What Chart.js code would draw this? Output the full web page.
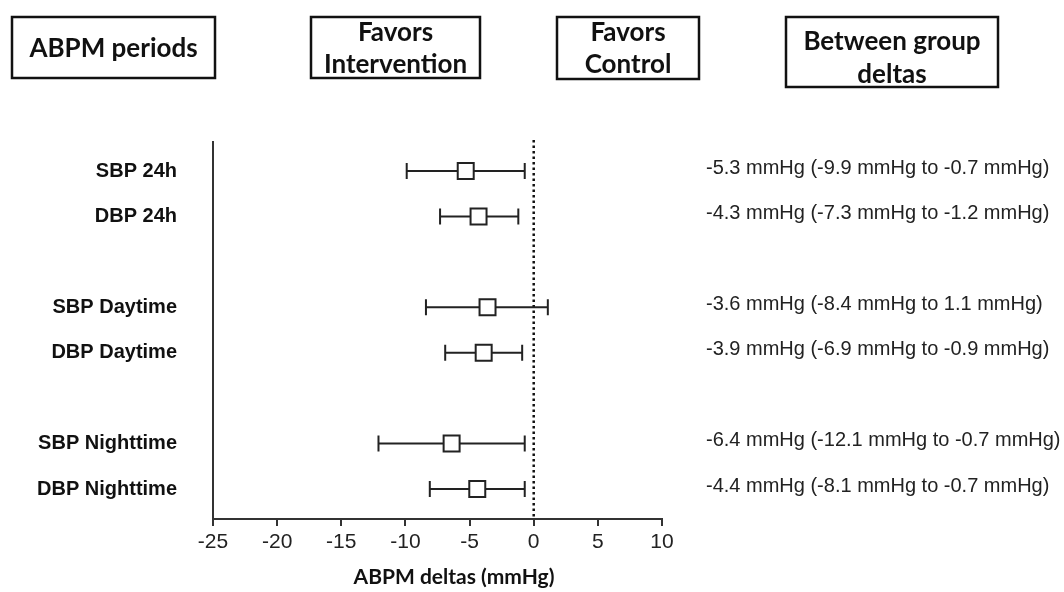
<!DOCTYPE html>
<html>
<head>
<meta charset="utf-8">
<script src="https://cdn.jsdelivr.net/npm/chart.js@4"></script>
<style>
  body { margin: 0; background: #fff; }
  #wrap { width: 1064px; height: 592px; position: relative; }
</style>
</head>
<body>
<div id="wrap"><canvas id="c"></canvas></div>
<script>
// data
const periods = ['SBP 24h', 'DBP 24h', 'SBP Daytime', 'DBP Daytime', 'SBP Nighttime', 'DBP Nighttime'];
const rowPos = [1, 2, 4, 5, 7, 8];
const deltas = [-5.3, -4.3, -3.6, -3.9, -6.4, -4.4];
const ciLow = [-9.9, -7.3, -8.4, -6.9, -12.1, -8.1];
const ciHigh = [-0.7, -1.2, 1.1, -0.9, -0.7, -0.7];
const xMin = -25, xMax = 10, xStep = 5;

const headers = [
  { box: [12, 17, 203, 61], lines: [['ABPM periods', 49]] },
  { box: [311, 17, 169, 61], lines: [['Favors', 33], ['Intervention', 65]] },
  { box: [557, 17, 142, 62], lines: [['Favors', 33], ['Control', 65]] },
  { box: [786, 17, 212, 70], lines: [['Between group', 42], ['deltas', 75]] }
];

const fmt = v => v.toFixed(1);

const forestPlugin = {
  id: 'forest',
  beforeDatasetsDraw(chart) {
    const ctx = chart.ctx, xs = chart.scales.x, ys = chart.scales.y, a = chart.chartArea;
    ctx.save();
    // dotted zero line
    const x0 = xs.getPixelForValue(0);
    ctx.strokeStyle = '#111';
    ctx.lineWidth = 2.5;
    ctx.setLineDash([2.5, 3]);
    ctx.beginPath();
    ctx.moveTo(x0, a.top - 2);
    ctx.lineTo(x0, a.bottom);
    ctx.stroke();
    ctx.setLineDash([]);
    // CI whiskers
    ctx.strokeStyle = '#222';
    ctx.lineWidth = 2;
    rowPos.forEach((r, i) => {
      const y = ys.getPixelForValue(r);
      const l = xs.getPixelForValue(ciLow[i]), h = xs.getPixelForValue(ciHigh[i]);
      ctx.beginPath();
      ctx.moveTo(l, y); ctx.lineTo(h, y);
      ctx.moveTo(l, y - 8); ctx.lineTo(l, y + 8);
      ctx.moveTo(h, y - 8); ctx.lineTo(h, y + 8);
      ctx.stroke();
    });
    ctx.restore();
  },
  afterDraw(chart) {
    const ctx = chart.ctx, xs = chart.scales.x, ys = chart.scales.y, a = chart.chartArea;
    ctx.save();
    // right-hand text
    ctx.fillStyle = '#222';
    ctx.font = '20px "Liberation Sans", Arial, sans-serif';
    ctx.textAlign = 'left';
    ctx.textBaseline = 'middle';
    rowPos.forEach((r, i) => {
      const y = ys.getPixelForValue(r) - 3;
      ctx.fillText(fmt(deltas[i]) + ' mmHg (' + fmt(ciLow[i]) + ' mmHg to ' + fmt(ciHigh[i]) + ' mmHg)', 706, y);
    });
    // header boxes
    ctx.strokeStyle = '#111';
    ctx.lineWidth = 2.5;
    ctx.fillStyle = '#111';
    ctx.font = 'bold 26px Lato, "Open Sans", sans-serif';
    ctx.textAlign = 'center';
    headers.forEach(h => {
      const [bx, by, bw, bh] = h.box;
      ctx.strokeRect(bx, by, bw, bh);
      h.lines.forEach(([t, y]) => ctx.fillText(t, bx + bw / 2, y));
    });
    // x axis title
    ctx.font = 'bold 21px Lato, "Open Sans", sans-serif';
    ctx.fillText('ABPM deltas (mmHg)', 454, 577);
    ctx.restore();
  }
};

new Chart(document.getElementById('c'), {
  type: 'scatter',
  data: {
    datasets: [
      {
        data: deltas.map((d, i) => ({ x: d, y: rowPos[i] })),
        pointStyle: 'rect',
        pointRadius: 11.3,
        pointHoverRadius: 11.3,
        backgroundColor: '#fff',
        borderColor: '#222',
        borderWidth: 2
      }
    ]
  },
  options: {
    responsive: true,
    maintainAspectRatio: false,
    animation: false,
    layout: { padding: { top: 142, right: 402, left: 0, bottom: 0 } },
    scales: {
      x: {
        type: 'linear',
        min: xMin,
        max: xMax,
        afterFit: s => { s.height = 73 },
        ticks: {
          stepSize: xStep,
          padding: 4,
          color: '#222',
          font: { family: '"Liberation Sans", Arial, sans-serif', size: 21 }
        },
        grid: {
          drawOnChartArea: false,
          drawTicks: true,
          tickLength: 7,
          color: '#333',
          lineWidth: 2
        },
        border: { display: true, color: '#333', width: 2 }
      },
      y: {
        type: 'linear',
        reverse: true,
        min: 0.36,
        max: 8.66,
        afterBuildTicks: s => { s.ticks = rowPos.map(v => ({ value: v })) },
        afterFit: s => { s.width = 213 },
        ticks: {
          callback: v => periods[rowPos.indexOf(v)],
          padding: 36,
          color: '#111',
          font: { family: '"Liberation Sans", Arial, sans-serif', size: 20, weight: 'bold' }
        },
        grid: { display: false, drawTicks: false },
        border: { display: true, color: '#333', width: 2 }
      }
    },
    plugins: {
      legend: { display: false },
      tooltip: { enabled: false }
    }
  },
  plugins: [forestPlugin]
});
</script>
</body>
</html>
